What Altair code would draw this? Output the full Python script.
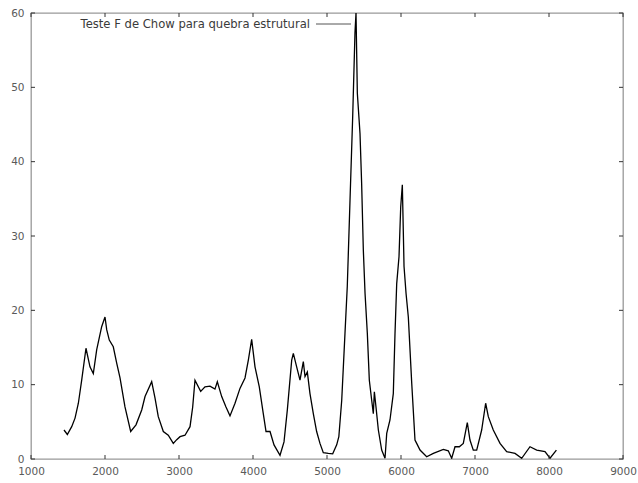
import altair as alt
import pandas as pd

x_vals = [1446, 1491, 1550, 1595, 1640, 1685, 1743, 1797, 1842, 1888, 1955, 2000, 2023, 2058, 2112,
          2158, 2203, 2270, 2347, 2419, 2496, 2541, 2631, 2676, 2720, 2788, 2855, 2923, 2969, 3014,
          3081, 3149, 3185, 3216, 3293, 3351, 3419, 3486, 3518, 3577, 3635, 3689, 3757, 3824, 3892,
          3937, 3982, 4027, 4085, 4139, 4176, 4230, 4284, 4365, 4419, 4464, 4523, 4545, 4590, 4635,
          4680, 4703, 4734, 4770, 4815, 4860, 4905, 4950, 5018, 5077, 5131, 5160, 5199, 5243, 5274,
          5311, 5347, 5378, 5392, 5410, 5446, 5468, 5491, 5514, 5545, 5572, 5604, 5626, 5640, 5662,
          5694, 5739, 5784, 5807, 5851, 5896, 5919, 5942, 5973, 5996, 6018, 6041, 6068, 6099, 6145,
          6189, 6212, 6257, 6347, 6437, 6572, 6639, 6685, 6730, 6788, 6842, 6896, 6932, 6977, 7023,
          7090, 7144, 7180, 7247, 7338, 7428, 7541, 7631, 7743, 7834, 7946, 8014, 8100]
y_vals = [3.9, 3.3, 4.35, 5.5, 7.5, 10.6, 14.9, 12.4, 11.5, 14.7, 17.8, 19.1, 17.4, 16.0, 15.1,
          12.9, 10.9, 7.0, 3.7, 4.6, 6.6, 8.4, 10.4, 8.2, 5.7, 3.7, 3.2, 2.1, 2.6, 3.0,
          3.2, 4.35, 7.0, 10.6, 9.1, 9.7, 9.8, 9.4, 10.4, 8.4, 7.0, 5.8, 7.5, 9.5, 10.9,
          13.3, 16.1, 12.4, 9.7, 6.1, 3.7, 3.7, 1.9, 0.5, 2.3, 6.6, 13.3, 14.2, 12.4, 10.6,
          13.1, 11.1, 11.7, 8.8, 6.1, 3.7, 2.1, 0.85, 0.75, 0.7, 1.9, 3.0, 7.9, 16.9, 23.2,
          34.8, 46.0, 57.3, 60.0, 49.2, 43.8, 37.1, 28.1, 22.3, 16.9, 10.6, 7.9, 6.1, 9.05, 7.0,
          3.9, 1.2, 0.1, 3.45, 5.25, 8.8, 16.9, 23.6, 27.2, 33.9, 36.9, 25.9, 22.3, 19.1, 10.2,
          2.55, 2.1, 1.2, 0.3, 0.75, 1.3, 1.1, 0.1, 1.65, 1.65, 2.1, 4.9, 2.55, 1.2, 1.2,
          3.9, 7.5, 5.7, 3.9, 2.1, 1.0, 0.75, 0.1, 1.65, 1.2, 1.0, 0.1, 1.2]

x_ticks = [1000, 2000, 3000, 4000, 5000, 6000, 7000, 8000, 9000]
y_ticks = [0, 10, 20, 30, 40, 50, 60]
series_label = "Teste F de Chow para quebra estrutural"

W, H = 592, 446
df = pd.DataFrame({"x": x_vals, "y": y_vals})
xt = pd.DataFrame({"t": x_ticks})
yt = pd.DataFrame({"t": y_ticks})

xscale = alt.Scale(domain=[1000, 9000], nice=False, zero=False)
yscale = alt.Scale(domain=[0, 60], nice=False)

font = "DejaVu Sans"

line = alt.Chart(df).mark_line(color="black", strokeWidth=1.3, clip=True).encode(
    x=alt.X("x:Q", scale=xscale,
            axis=alt.Axis(values=x_ticks, title=None, ticks=False, domain=False, grid=False,
                          labelColor="#5a5a5a", labelFontSize=10.5, labelFont=font,
                          labelPadding=7, format="d", labelFlush=False)),
    y=alt.Y("y:Q", scale=yscale,
            axis=alt.Axis(values=y_ticks, title=None, ticks=False, domain=False, grid=False,
                          labelColor="#5a5a5a", labelFontSize=10.5, labelFont=font,
                          labelPadding=7, labelFlush=False)),
)

tick_color = "#333333"
xt_bot = alt.Chart(xt).mark_rule(color=tick_color, strokeWidth=1).encode(
    x="t:Q", y=alt.value(H), y2=alt.value(H - 4))
xt_top = alt.Chart(xt).mark_rule(color=tick_color, strokeWidth=1).encode(
    x="t:Q", y=alt.value(0), y2=alt.value(4))
yt_left = alt.Chart(yt).mark_rule(color=tick_color, strokeWidth=1).encode(
    y="t:Q", x=alt.value(0), x2=alt.value(4))
yt_right = alt.Chart(yt).mark_rule(color=tick_color, strokeWidth=1).encode(
    y="t:Q", x=alt.value(W), x2=alt.value(W - 4))

leg_df = pd.DataFrame({"label": [series_label]})
leg_text = alt.Chart(leg_df).mark_text(align="right", baseline="middle", font=font,
                                        fontSize=11.6, color="#3a3a3a").encode(
    text="label:N", x=alt.value(279), y=alt.value(12))
leg_line = alt.Chart(leg_df).mark_rule(color="#555555", strokeWidth=1).encode(
    x=alt.value(285), x2=alt.value(320), y=alt.value(11))

chart = alt.layer(line, xt_bot, xt_top, yt_left, yt_right, leg_text, leg_line).properties(
    width=W, height=H,
    autosize=alt.AutoSizeParams(type="none"),
    padding={"left": 31, "top": 13, "right": 15, "bottom": 24},
    background="white",
).configure_view(stroke="#999999", strokeWidth=1.3)

chart.save("out.html", embed_options={"renderer": "svg", "actions": False})
